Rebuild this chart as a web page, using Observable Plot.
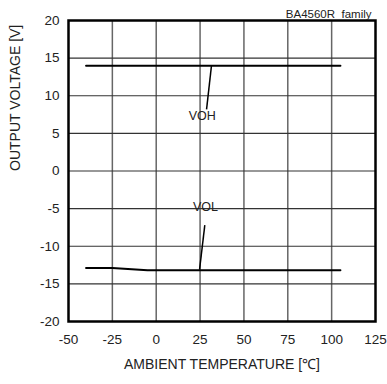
<!DOCTYPE html>
<html>
<head>
<meta charset="utf-8">
<script src="https://cdn.jsdelivr.net/npm/d3@7"></script>
<script src="https://cdn.jsdelivr.net/npm/@observablehq/plot@0.6"></script>
<style>
  html, body { margin: 0; padding: 0; background: #fff; }
  svg { font-family: "Liberation Sans", Arial, sans-serif; }
</style>
</head>
<body>
<div id="chart"></div>
<script>
const xTicks = [-50, -25, 0, 25, 50, 75, 100, 125];
const yTicks = [-20, -15, -10, -5, 0, 5, 10, 15, 20];

const vohTemp = [-40, 105];
const vohVolt = [14, 14];

const volTemp = [-40, -25, -5, 25, 50, 75, 105];
const volVolt = [-12.9, -12.9, -13.2, -13.2, -13.2, -13.2, -13.2];

const labelNames = ["VOH", "VOL"];
const labelTemp = [26.2, 28.1];
const labelVolt = [7.3, -4.8];

const leaderX1 = [28.7, 27.7];
const leaderY1 = [8.2, -7.2];
const leaderX2 = [31.5, 24.7];
const leaderY2 = [14, -13.1];

const xTitle = "AMBIENT TEMPERATURE [℃]";
const yTitle = "OUTPUT VOLTAGE [V]";
const topNote = "BA4560R  family";

const vohData = vohTemp.map((t, i) => ({t, v: vohVolt[i]}));
const volData = volTemp.map((t, i) => ({t, v: volVolt[i]}));
const labels = labelNames.map((n, i) => ({n, t: labelTemp[i], v: labelVolt[i]}));
const leaders = labelNames.map((n, i) => ({x1: leaderX1[i], y1: leaderY1[i], x2: leaderX2[i], y2: leaderY2[i]}));
const fmt = d => String(d);

const chart = Plot.plot({
  width: 387,
  height: 384,
  marginLeft: 68,
  marginRight: 12,
  marginTop: 20,
  marginBottom: 63,
  style: {fontFamily: "'Liberation Sans', Arial, sans-serif", fontSize: "12px", color: "#222", background: "#fff"},
  x: {domain: [-50, 125]},
  y: {domain: [-20, 20]},
  marks: [
    Plot.ruleX(xTicks.slice(1, -1), {stroke: "#666", strokeWidth: 1.5}),
    Plot.ruleY(yTicks.slice(1, -1), {stroke: "#333", strokeWidth: 1.2}),
    Plot.frame({stroke: "#000", strokeWidth: 2.5}),
    Plot.line(vohData, {x: "t", y: "v", stroke: "#000", strokeWidth: 2}),
    Plot.line(volData, {x: "t", y: "v", stroke: "#000", strokeWidth: 2}),
    Plot.link(leaders, {x1: "x1", y1: "y1", x2: "x2", y2: "y2", stroke: "#000", strokeWidth: 1.5}),
    Plot.text(labels, {x: "t", y: "v", text: "n", fontSize: 12.5, fill: "#222"}),
    Plot.text([topNote], {frameAnchor: "top-right", lineAnchor: "bottom", dx: -4, dy: -3, fontSize: 11.5, fill: "#222"}),
    Plot.axisX({ticks: xTicks, tickFormat: fmt, tickSize: 0, tickPadding: 13, fontSize: 13.5, label: null}),
    Plot.axisY({ticks: yTicks, tickFormat: fmt, tickSize: 0, tickPadding: 9, fontSize: 13.5, label: null}),
    Plot.text([xTitle], {frameAnchor: "bottom", dy: 47, fontSize: 14, fill: "#222"}),
    Plot.text([yTitle], {frameAnchor: "left", dx: -53, rotate: -90, fontSize: 14, fill: "#222"})
  ]
});
document.getElementById("chart").appendChild(chart);
</script>
</body>
</html>
